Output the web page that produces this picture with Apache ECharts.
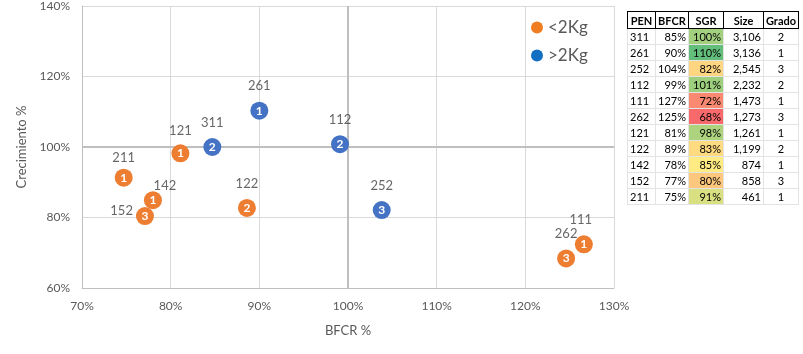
<!DOCTYPE html>
<html>
<head>
<meta charset="utf-8">
<script src="https://cdn.jsdelivr.net/npm/echarts@6/dist/echarts.min.js"></script>
<style>
body { margin: 0; background: #fff; }
#grafico { position: absolute; left: 0; top: 0; width: 803px; height: 354px; }
#tabla { position: absolute; left: 627px; top: 11px; border-collapse: collapse; table-layout: fixed;
         font-family: Lato, sans-serif; font-size: 11px; color: #000; }
#tabla th { height: 16px; border: 1px solid #000; padding: 0 2px; font-weight: bold; text-align: center; }
#tabla td { height: 15px; border: 1px solid #e3e3e3; padding: 0 2px; line-height: 15px; }
#tabla td.der { text-align: right; }
#tabla td.cen { text-align: center; }
</style>
</head>
<body>
<div id="grafico"></div>
<table id="tabla">
  <colgroup>
    <col style="width:28px"><col style="width:32px"><col style="width:35px"><col style="width:40px"><col style="width:33px">
  </colgroup>
  <thead><tr><th>PEN</th><th>BFCR</th><th>SGR</th><th>Size</th><th>Grado</th></tr></thead>
  <tbody id="cuerpo"></tbody>
</table>
<script>
// datos por estanque (PEN)
var pen   = ['311', '261', '252', '112', '111', '262', '121', '122', '142', '152', '211'];
var bfcr  = [84.7, 90.0, 103.8, 99.1, 126.6, 124.6, 81.1, 88.6, 78.0, 77.1, 74.7];
var sgr   = [100.0, 110.3, 82.1, 100.8, 72.4, 68.4, 98.2, 82.7, 84.9, 80.4, 91.3];
var size  = [3106, 3136, 2545, 2232, 1473, 1273, 1261, 1199, 874, 858, 461];
var grado = [2, 1, 3, 2, 1, 3, 1, 2, 1, 3, 1];
var grupo = ['>2Kg', '>2Kg', '>2Kg', '>2Kg', '<2Kg', '<2Kg', '<2Kg', '<2Kg', '<2Kg', '<2Kg', '<2Kg'];
var grupos = ['<2Kg', '>2Kg'];

var colores = { '<2Kg': '#ED7D31', '>2Kg': '#4472C4' };
var coloresLeyenda = { '<2Kg': '#EF7D22', '>2Kg': '#136FC2' };

// ajustes de etiqueta para los puntos que se pisan
var ajusteEtiqueta = {
    '211': { offset: [0, 5] },
    '121': { offset: [0, 2] },
    '142': { offset: [12, 10] },
    '152': { position: 'left', distance: 12, offset: [0, -5] },
    '111': { offset: [-3, 0] }
};

// escala de color tipo Excel (rojo - amarillo - verde)
function mezcla(a, b, t) {
    return 'rgb(' + [0, 1, 2].map(function (i) { return Math.round(a[i] + (b[i] - a[i]) * t); }).join(',') + ')';
}
function colorSGR(v) {
    var orden = sgr.slice().sort(function (a, b) { return a - b; });
    var min = orden[0], max = orden[orden.length - 1], med = orden[Math.floor(orden.length / 2)];
    var rojo = [248, 105, 107], amarillo = [255, 235, 132], verde = [99, 190, 123];
    if (v <= med) return mezcla(rojo, amarillo, (v - min) / (med - min));
    return mezcla(amarillo, verde, (v - med) / (max - med));
}

// tabla
var filas = '';
for (var i = 0; i < pen.length; i++) {
    filas += '<tr><td>' + pen[i] + '</td>' +
        '<td class="der">' + Math.round(bfcr[i]) + '%</td>' +
        '<td class="der" style="background:' + colorSGR(sgr[i]) + '">' + Math.round(sgr[i]) + '%</td>' +
        '<td class="der">' + size[i].toLocaleString('en-US') + '</td>' +
        '<td class="cen">' + grado[i] + '</td></tr>';
}
document.getElementById('cuerpo').innerHTML = filas;

var chart = echarts.init(document.getElementById('grafico'));

var series = grupos.map(function (g, k) {
    var datos = [];
    for (var i = 0; i < pen.length; i++) {
        if (grupo[i] === g) datos.push([bfcr[i], sgr[i], grado[i], pen[i]]);
    }
    var s = {
        name: g,
        type: 'scatter',
        symbol: 'circle',
        symbolSize: 18,
        itemStyle: { color: colores[g], opacity: 1 },
        label: {
            show: true,
            position: 'inside',
            formatter: function (p) { return p.value[2]; },
            color: '#fff',
            fontFamily: 'Lato',
            fontWeight: 'bold',
            fontSize: 12
        },
        z: 3,
        data: datos
    };
    if (k === 0) {
        s.markLine = {
            silent: true,
            symbol: 'none',
            label: { show: false },
            lineStyle: { color: '#BFBFBF', width: 2, type: 'solid' },
            data: [{ xAxis: 100 }, { yAxis: 100 }],
            z: 1
        };
    }
    return s;
});

// etiquetas con el PEN encima de cada punto
var etiquetas = pen.map(function (p, i) {
    var aj = ajusteEtiqueta[p] || {};
    return {
        value: [bfcr[i], sgr[i]],
        label: {
            position: aj.position || 'top',
            distance: aj.distance != null ? aj.distance : 18,
            offset: aj.offset || [0, 0],
            formatter: p
        }
    };
});
series.push({
    type: 'scatter',
    symbolSize: 0,
    silent: true,
    itemStyle: { color: 'rgba(0,0,0,0)' },
    label: { show: true, color: '#404040', fontFamily: 'Lato', fontSize: 13 },
    z: 4,
    data: etiquetas
});

chart.setOption({
    animation: false,
    textStyle: { fontFamily: 'Lato' },
    grid: { left: 82, top: 3, right: 189, bottom: 66, containLabel: false },
    legend: {
        orient: 'vertical',
        left: 531,
        top: 19,
        itemWidth: 12,
        itemHeight: 12,
        itemGap: 11,
        padding: 0,
        textStyle: { fontSize: 17, color: '#595959', lineHeight: 14 },
        data: grupos.map(function (g) {
            return { name: g, icon: 'circle', itemStyle: { color: coloresLeyenda[g] } };
        })
    },
    xAxis: {
        type: 'value',
        min: 70,
        max: 130,
        interval: 10,
        name: 'BFCR %',
        nameLocation: 'middle',
        nameGap: 36,
        nameTextStyle: { color: '#595959', fontSize: 13 },
        axisLine: { show: true, lineStyle: { color: '#BFBFBF' } },
        axisTick: { show: false },
        axisLabel: { formatter: '{value}%', color: '#595959', fontSize: 12, margin: 12 },
        splitLine: { show: true, lineStyle: { color: '#D9D9D9' } }
    },
    yAxis: {
        type: 'value',
        min: 60,
        max: 140,
        interval: 20,
        name: 'Crecimiento %',
        nameLocation: 'middle',
        nameGap: 45,
        nameTextStyle: { color: '#595959', fontSize: 13 },
        axisLine: { show: true, lineStyle: { color: '#BFBFBF' } },
        axisTick: { show: false },
        axisLabel: { formatter: '{value}%', color: '#595959', fontSize: 12, margin: 12 },
        splitLine: { show: true, lineStyle: { color: '#D9D9D9' } }
    },
    series: series
});
</script>
</body>
</html>
